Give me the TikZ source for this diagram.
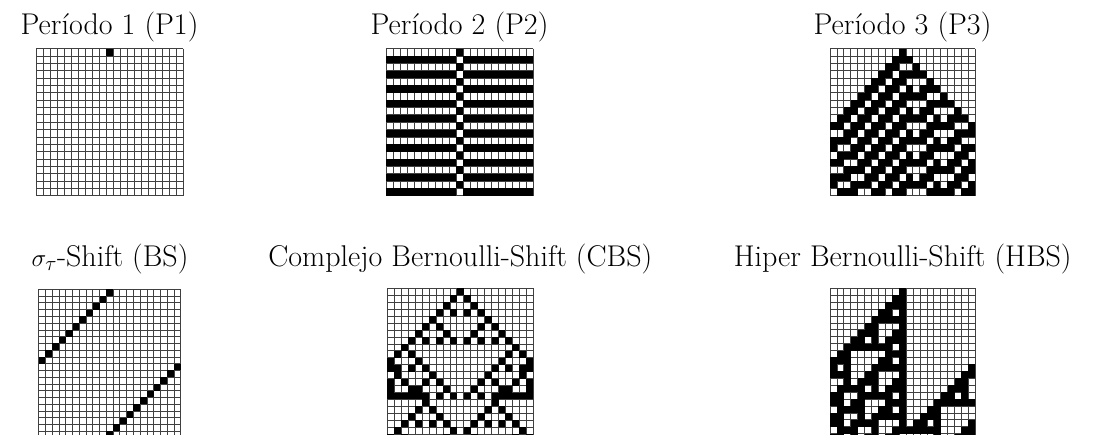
\documentclass[tikz,border=0pt]{standalone}
\usepackage{fontspec}
\usetikzlibrary{calc}
\makeatletter
\def\casetcell#1#2#3{\expandafter\xdef\csname cacell@#1@#2\endcsname{#3}}
\def\cagetcell#1#2{\csname cacell@#1@#2\endcsname}
% #1 rule, #2 last row index
\newcommand\carun[2]{%
  \foreach \i in {0,...,20}{\casetcell{0}{\i}{0}}%
  \casetcell{0}{10}{1}%
  \foreach \k in {0,...,7}{%
    \pgfmathtruncatemacro\cabit{mod(floor(#1/pow(2,\k)),2)}%
    \expandafter\xdef\csname carb@\k\endcsname{\cabit}}%
  \foreach \r in {1,...,#2}{%
    \pgfmathtruncatemacro\capr{\r-1}%
    \foreach \i in {0,...,20}{%
      \pgfmathtruncatemacro\cail{mod(\i+20,21)}%
      \pgfmathtruncatemacro\cair{mod(\i+1,21)}%
      \pgfmathtruncatemacro\cak{4*\cagetcell{\capr}{\cail}+2*\cagetcell{\capr}{\i}+\cagetcell{\capr}{\cair}}%
      \casetcell{\r}{\i}{\csname carb@\cak\endcsname}%
    }%
  }%
}
% #1 x0, #2 y0, #3 cell w, #4 cell h, #5 last row index
\newcommand\cadraw[5]{%
  \foreach \i in {0,...,21}{\draw[gridline] ({#1+\i*#3},#2) -- ({#1+\i*#3},{#2+(#5+1)*#4});}%
  \foreach \r in {0,...,#5}{\draw[gridline] (#1,{#2+\r*#4}) -- ({#1+21*#3},{#2+\r*#4});}%
  \draw[gridline] (#1,{#2+(#5+1)*#4}) -- ({#1+21*#3},{#2+(#5+1)*#4});%
  \foreach \r in {0,...,#5}{%
    \foreach \i in {0,...,20}{%
      \ifnum\cagetcell{\r}{\i}=1
        \fill[black] ({#1+\i*#3},{#2+\r*#4}) rectangle ++(#3,#4);%
      \fi
    }%
  }%
}
\makeatother
\tikzset{
  gridline/.style={draw=black!75, line width=0.7pt},
  title/.style={anchor=base, inner sep=0pt, font=\fontsize{30}{34}\selectfont}
}
\begin{document}
\begin{tikzpicture}[x=1pt,y=-1pt]
\useasboundingbox (0,0) rectangle (1098,435);
\clip (0,0) rectangle (1098,435);
\fill[white] (0,0) rectangle (1098,435);
% titles
\node[title] (t1) at (109.5,35) {Período 1 (P1)};
\node[title] (t2) at (459.5,35) {Período 2 (P2)};
\node[title] (t3) at (902.5,35) {Período 3 (P3)};
\node[title] (t4) at (110,267) {$\sigma_\tau$-Shift (BS)};
\node[title] (t5) at (460.3,267) {Complejo Bernoulli-Shift (CBS)};
\node[title] (t6) at (902.7,267) {Hiper Bernoulli-Shift (HBS)};
% top row
\carun{32}{19}
\cadraw{36}{48.7}{7.0}{7.35}{19}
\carun{51}{19}
\cadraw{386}{48.7}{7.0}{7.35}{19}
\carun{62}{19}
\cadraw{830}{48.7}{6.9}{7.35}{19}
% bottom row
\carun{170}{21}
\cadraw{38.7}{289.3}{6.76}{6.76}{21}
\carun{90}{21}
\cadraw{387.3}{288.3}{6.95}{6.95}{21}
\carun{110}{21}
\cadraw{830}{288.3}{6.92}{6.92}{21}
\end{tikzpicture}
\end{document}
